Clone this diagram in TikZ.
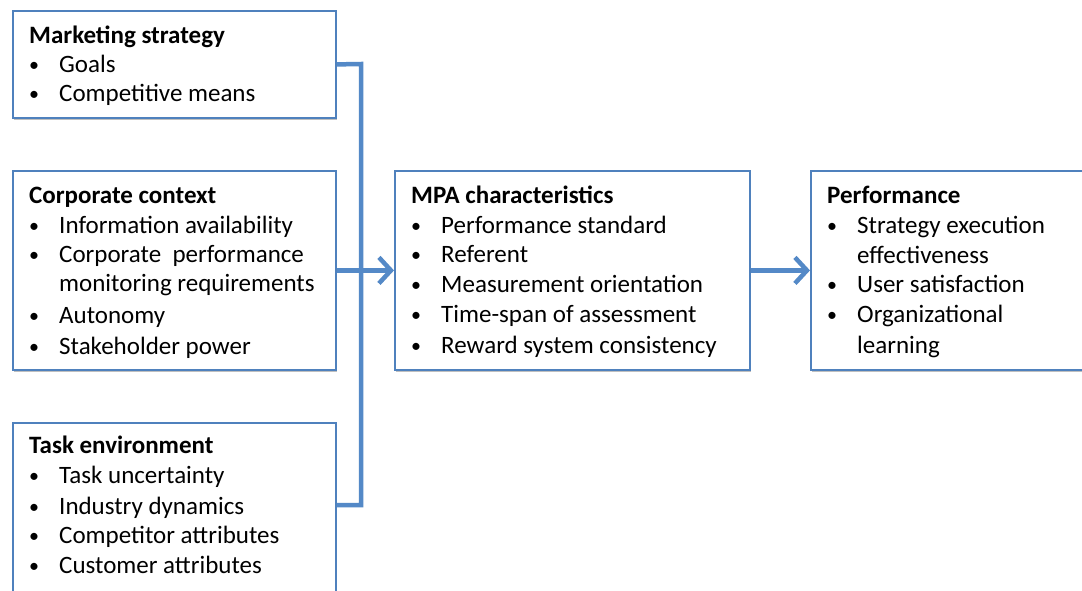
\documentclass[tikz,border=0pt]{standalone}
\usepackage{graphicx}
\usepackage{fontspec}
\setmainfont{Carlito}
\usetikzlibrary{arrows.meta,shadows}
\definecolor{boxblue}{RGB}{79,129,189}
\definecolor{linkblue}{RGB}{84,137,199}
\newcommand{\bitem}[1]{\makebox[30pt][l]{\raisebox{1pt}{\scalebox{0.8}{•}}}#1}
\newcommand{\citem}[1]{\hspace*{30pt}#1}
\begin{document}
\begin{tikzpicture}[x=1pt,y=-1pt,
  panel/.style={draw=boxblue, line width=1.8pt, fill=white, inner sep=0pt, anchor=north west,
    drop shadow={shadow xshift=1.5pt, shadow yshift=-2pt, opacity=0.25, fill=black}},
  txt/.style={anchor=base west, inner sep=0pt, font=\fontsize{25}{30}\selectfont},
  head/.style={txt, font=\fontsize{25}{30}\selectfont\bfseries},
  conn/.style={draw=linkblue, line width=4.5pt, line join=miter},
  arrowconn/.style={conn, -{Straight Barb[length=12pt,width=26pt]}}
]
\clip (0,0) rectangle (1082,590);
\useasboundingbox (0,0) rectangle (1082,590);
\fill[white] (0,0) rectangle (1082,590);

% boxes
\node[panel, minimum width=323pt, minimum height=107pt] (ms) at (12,10) {};
\node[panel, minimum width=323pt, minimum height=199pt] (cc) at (12,170) {};
\node[panel, minimum width=323pt, minimum height=190pt] (te) at (12,422) {};
\node[panel, minimum width=355pt, minimum height=199pt] (mpa) at (394,170) {};
\node[panel, minimum width=290pt, minimum height=199pt] (perf) at (810,170) {};

% Marketing strategy
\node[head] (ms0) at (29,43) {Marketing strategy};
\node[txt] (ms1) at (29,72) {\bitem{Goals}};
\node[txt] (ms2) at (29,101) {\bitem{Competitive means}};

% Corporate context
\node[head] (cc0) at (29,203) {Corporate context};
\node[txt] (cc1) at (29,233) {\bitem{Information availability}};
\node[txt] (cc2) at (29,262) {\bitem{Corporate\ \ performance}};
\node[txt] (cc3) at (29,291) {\citem{monitoring requirements}};
\node[txt] (cc4) at (29,323) {\bitem{Autonomy}};
\node[txt] (cc5) at (29,354) {\bitem{Stakeholder power}};

% Task environment
\node[head] (te0) at (29,453) {Task environment};
\node[txt] (te1) at (29,483) {\bitem{Task uncertainty}};
\node[txt] (te2) at (29,514) {\bitem{Industry dynamics}};
\node[txt] (te3) at (29,543) {\bitem{Competitor attributes}};
\node[txt] (te4) at (29,573) {\bitem{Customer attributes}};

% MPA characteristics
\node[head] (mp0) at (411,203) {MPA characteristics};
\node[txt] (mp1) at (411,233) {\bitem{Performance standard}};
\node[txt] (mp2) at (411,262) {\bitem{Referent}};
\node[txt] (mp3) at (411,292) {\bitem{Measurement orientation}};
\node[txt] (mp4) at (411,322) {\bitem{Time-span of assessment}};
\node[txt] (mp5) at (411,353) {\bitem{Reward system consistency}};

% Performance
\node[head] (pf0) at (827,203) {Performance};
\node[txt] (pf1) at (827,233) {\bitem{Strategy execution}};
\node[txt] (pf2) at (827,263) {\citem{effectiveness}};
\node[txt] (pf3) at (827,292) {\bitem{User satisfaction}};
\node[txt] (pf4) at (827,322) {\bitem{Organizational}};
\node[txt] (pf5) at (827,353) {\citem{learning}};

% connectors
\coordinate (j1) at (361,64);
\coordinate (j3) at (361,505);
\draw[conn] (ms.east) -- (j1) -- (j3) -- (te.east |- j3);
\draw[arrowconn] (cc.east) -- (mpa.west);
\draw[arrowconn] (mpa.east) -- (perf.west);
\end{tikzpicture}
\end{document}
